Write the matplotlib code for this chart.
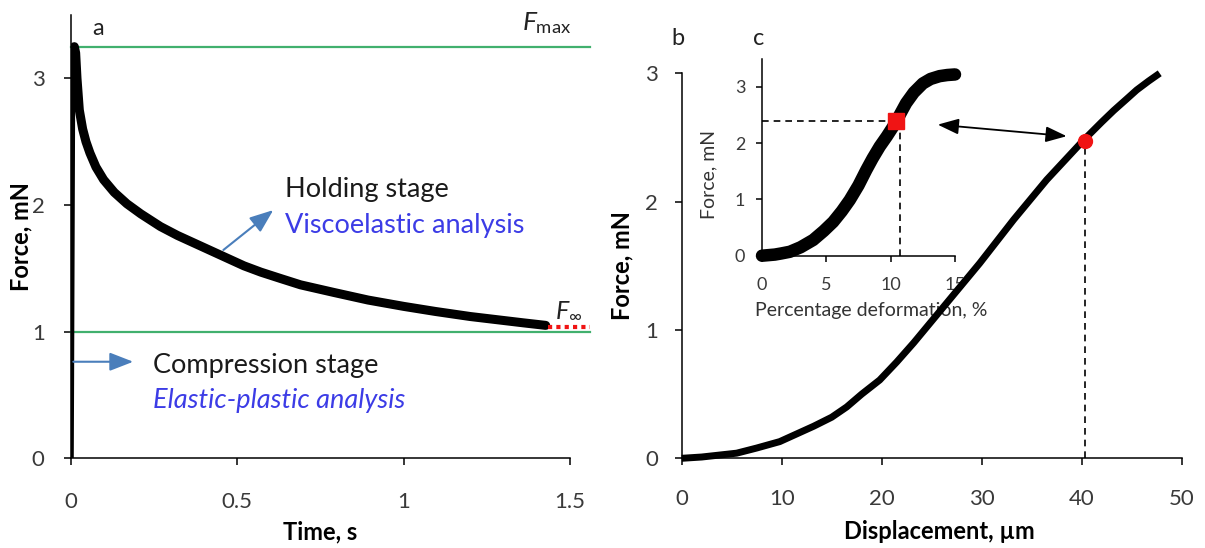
import matplotlib
matplotlib.use("Agg")
import matplotlib.pyplot as plt

plt.rcParams.update({
    "font.family": ["Lato", "DejaVu Sans"],
    "mathtext.fontset": "custom",
    "mathtext.rm": "Lato",
    "mathtext.it": "Lato:italic",
    "figure.facecolor": "white",
})

# ---- data ----
# (a) force relaxation: loading ramp then holding stage
t_load = [0.0, 0.001, 0.002, 0.003, 0.004, 0.006, 0.010]
f_load = [0.0, 0.6, 1.3, 2.0, 2.7, 3.1, 3.25]
t_hold = [0.010, 0.014, 0.018, 0.025, 0.035, 0.045, 0.057, 0.075, 0.098, 0.13,
          0.168, 0.21, 0.269, 0.32, 0.37, 0.42, 0.47, 0.52, 0.571, 0.63, 0.69,
          0.79, 0.893, 1.0, 1.095, 1.2, 1.296, 1.36, 1.427]
f_hold = [3.25, 3.2, 3.0, 2.75, 2.6, 2.5, 2.41, 2.30, 2.20, 2.10,
          2.01, 1.93, 1.83, 1.76, 1.70, 1.64, 1.58, 1.52, 1.47, 1.42, 1.37,
          1.31, 1.25, 1.20, 1.16, 1.12, 1.09, 1.07, 1.05]
F_MAX = 3.25
F_INF = 1.0
F_INF_TAIL = 1.04

# (b) force vs displacement
disp = [0, 2, 5.5, 7.5, 9.8, 11.5, 13.2, 15, 16.5, 18, 19.8, 21.5, 23.2,
        26.5, 29.8, 33.2, 36.5, 40.2, 42, 43.2, 44.5, 45.5, 46.7, 47.8]
force_b = [0, 0.01, 0.04, 0.08, 0.13, 0.19, 0.25, 0.32, 0.40, 0.50, 0.61,
           0.75, 0.90, 1.21, 1.52, 1.86, 2.17, 2.48, 2.62, 2.71, 2.80, 2.87,
           2.94, 3.0]
pt_b = (40.3, 2.47)

# (c) force vs percentage deformation
pct = [0, 1, 1.5, 2.17, 3, 3.98, 4.8, 5.53, 6.2, 6.82, 7.5, 8.1, 8.6, 9.15,
       9.7, 10.18, 10.7, 11.2, 11.8, 12.5, 13.1, 13.8, 14.4, 15.0]
force_c = [0, 0.02, 0.04, 0.07, 0.15, 0.28, 0.44, 0.60, 0.79, 0.99, 1.25,
           1.52, 1.73, 1.94, 2.12, 2.29, 2.50, 2.71, 2.90, 3.06, 3.14, 3.19,
           3.21, 3.22]
pt_c = (10.4, 2.4)

GREEN = "#41b06e"
BLUE_TXT = "#3c3ce6"
ARROW_BLUE = "#4a7ebb"
RED = "#f01414"
TICK_C = "#3a3a3a"

W, H = 1205, 548
fig = plt.figure(figsize=(W / 100, H / 100), dpi=100)


def box(x0, y_top, x1, y_bot):
    return [x0 / W, 1 - y_bot / H, (x1 - x0) / W, (y_bot - y_top) / H]


def style(ax, fs, pad, length=5):
    for s in ("top", "right"):
        ax.spines[s].set_visible(False)
    for s in ("left", "bottom"):
        ax.spines[s].set_linewidth(1.1)
    ax.tick_params(direction="out", length=length, width=1.1, labelsize=fs,
                   pad=pad, labelcolor=TICK_C)
    ax.patch.set_visible(False)


# ── panel a ──
ax_a = fig.add_axes(box(71, 15, 570, 458.4))
ax_a.plot(t_load, f_load, color="black", lw=4, solid_capstyle="butt", zorder=3)
ax_a.plot(t_hold, f_hold, color="black", lw=6.5, solid_capstyle="round", zorder=3)
ax_a.plot([0, 1.56], [F_MAX, F_MAX], color=GREEN, lw=1.6, clip_on=False, zorder=2)
ax_a.plot([0, 1.56], [F_INF, F_INF], color=GREEN, lw=1.6, clip_on=False, zorder=2)
ax_a.plot([1.435, 1.56], [F_INF_TAIL, F_INF_TAIL], color=RED, lw=3,
          ls=(0, (1, 1)), clip_on=False, zorder=4)
ax_a.set_xlim(0, 1.5)
ax_a.set_ylim(0, 3.5)
ax_a.set_xticks([0, 0.5, 1, 1.5], ["0", "0.5", "1", "1.5"])
ax_a.set_yticks([0, 1, 2, 3], ["0", "1", "2", "3"])
style(ax_a, 16, 14)
ax_a.tick_params(axis="x", pad=19)
ax_a.set_xlabel("Time, s", fontsize=17, fontweight="bold")
ax_a.xaxis.set_label_coords(0.5, -0.165)
ax_a.xaxis.label.set_va("center")
ax_a.set_ylabel("Force, mN", fontsize=17, fontweight="bold")
ax_a.yaxis.set_label_coords(-0.1, 0.5)
ax_a.yaxis.label.set_va("center")

ax_a.text(0.063, 3.34, "a", fontsize=17, color="#222222")
ax_a.text(1.357, 3.38, r"$F_{\mathrm{max}}$", fontsize=19, color="#222222")
ax_a.text(1.455, 1.118, r"$F_{\infty}$", fontsize=18, color="#222222")
ax_a.text(0.643, 2.063, "Holding stage", fontsize=19.5, color="#1a1a1a")
ax_a.text(0.643, 1.781, "Viscoelastic analysis", fontsize=19.5, color=BLUE_TXT)
ax_a.text(0.2456, 0.674, "Compression stage", fontsize=19.5, color="#1a1a1a")
ax_a.text(0.2456, 0.398, "Elastic-plastic analysis", fontsize=19.5,
          color=BLUE_TXT, style="italic")
arrow_kw = dict(arrowstyle="-|>,head_length=0.9,head_width=0.35",
                color=ARROW_BLUE, lw=1.5, shrinkA=0, shrinkB=0, mutation_scale=16)
ax_a.annotate("", xy=(0.608, 1.96), xytext=(0.458, 1.645), arrowprops=arrow_kw)
ax_a.annotate("", xy=(0.187, 0.763), xytext=(0.007, 0.763), arrowprops=arrow_kw)

# ── panel b ──
ax_b = fig.add_axes(box(681.7, 73.3, 1181.7, 458.3), zorder=2)
ax_b.plot(disp, force_b, color="black", lw=5, solid_capstyle="butt",
          clip_on=False, zorder=3)
ax_b.plot([pt_b[0], pt_b[0]], [0, pt_b[1]], color="black", lw=1.2,
          ls=(0, (4, 3)), zorder=2)
ax_b.plot([pt_b[0]], [pt_b[1]], "o", color=RED, ms=10, zorder=4)
ax_b.set_xlim(0, 50)
ax_b.set_ylim(0, 3)
ax_b.set_xticks([0, 10, 20, 30, 40, 50])
ax_b.set_yticks([0, 1, 2, 3])
style(ax_b, 16, 12)
ax_b.tick_params(axis="x", pad=17)
ax_b.set_xlabel("Displacement, µm", fontsize=17, fontweight="bold")
ax_b.xaxis.set_label_coords(0.515, -0.19)
ax_b.xaxis.label.set_va("center")
ax_b.set_ylabel("Force, mN", fontsize=17, fontweight="bold")
ax_b.yaxis.set_label_coords(-0.12, 0.5)
ax_b.yaxis.label.set_va("center")
ax_b.text(-1.0, 3.22, "b", fontsize=17, color="#222222", clip_on=False)
ax_b.text(7.1, 3.22, "c", fontsize=17, color="#222222", clip_on=False)
ax_b.annotate("", xy=(38.5, 2.51), xytext=(25.6, 2.60), annotation_clip=False,
              arrowprops=dict(arrowstyle="<|-|>,head_length=0.8,head_width=0.3",
                              color="black", lw=1.3, shrinkA=0, shrinkB=0,
                              mutation_scale=16))

# ── inset c ──
ax_c = fig.add_axes(box(762, 58.7, 955, 255.7), zorder=1)
ax_c.plot(pct, force_c, color="black", lw=9, solid_capstyle="round",
          clip_on=False, zorder=2)
ax_c.plot([0, pt_c[0] - 0.1], [pt_c[1], pt_c[1]], color="black", lw=1.2,
          ls=(0, (4, 3)), zorder=3)
ax_c.plot([pt_c[0] + 0.3, pt_c[0] + 0.3], [0, pt_c[1]], color="black", lw=1.2,
          ls=(0, (4, 3)), zorder=3)
ax_c.plot([pt_c[0]], [pt_c[1]], "s", color=RED, ms=12, zorder=4)
ax_c.set_xlim(0, 15)
ax_c.set_ylim(0, 3.5)
ax_c.set_xticks([0, 5, 10, 15])
ax_c.set_yticks([0, 1, 2, 3])
style(ax_c, 13, 8, length=4)
ax_c.tick_params(axis="x", pad=11)
ax_c.set_xlabel("Percentage deformation, %", fontsize=14, color="#333333")
ax_c.xaxis.set_label_coords(0.565, -0.276)
ax_c.xaxis.label.set_va("center")
ax_c.set_ylabel("Force, mN", fontsize=14, color="#333333")
ax_c.yaxis.set_label_coords(-0.275, 0.41)
ax_c.yaxis.label.set_va("center")

fig.savefig("out.png", dpi=100)
